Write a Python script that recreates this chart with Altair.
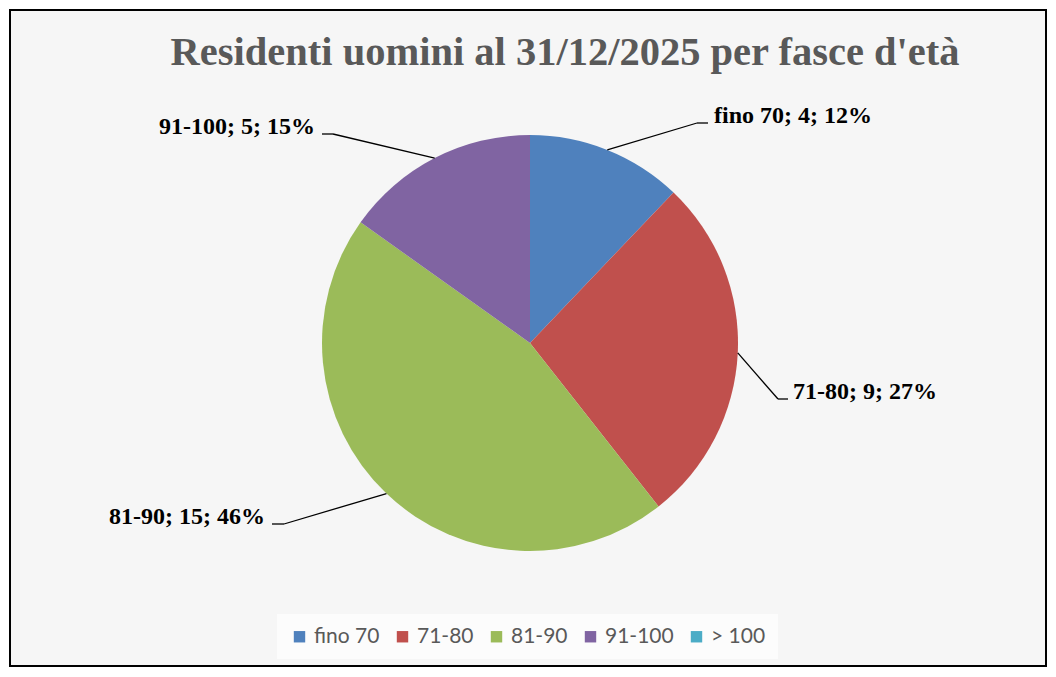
import altair as alt
import pandas as pd

# ---- data ----
categories = ["fino 70", "71-80", "81-90", "91-100", "> 100"]
values = [4, 9, 15, 5, 0]
percents = [12, 27, 46, 15, 0]
colors = ["#4F81BD", "#C0504D", "#9BBB59", "#8064A2", "#4BACC6"]

# ---- layout (page pixel coordinates of label annotations) ----
OFF = 10  # page offset of the plot area (8px body margin + 2px padding)
label_x_page = [714, 793, 265, 315, None]
line_y_page = [123, 399, 524, 134, None]
elbow_x_page = [697, 778, 284, 333, None]
end_x_page = [708, 788, 272, 322, None]
label_align = ["left", "left", "right", "right", "left"]

CX, CY, R = 530 - OFF, 343 - OFF, 208
W, H = 1036, 656


def sub(v):
    return None if v is None else v - OFF


df = pd.DataFrame({
    "category": categories,
    "value": values,
    "pct": percents,
    "order": list(range(len(categories))),
    "label_x": [sub(v) for v in label_x_page],
    "line_y": [sub(v) for v in line_y_page],
    "elbow_x": [sub(v) for v in elbow_x_page],
    "end_x": [sub(v) for v in end_x_page],
    "side": label_align,
})

base = alt.Chart(df)

pie = base.mark_arc(outerRadius=R, stroke=None).encode(
    x=alt.value(CX),
    y=alt.value(CY),
    theta=alt.Theta("value:Q", stack=True),
    order=alt.Order("order:Q"),
    color=alt.Color(
        "category:N",
        scale=alt.Scale(domain=categories, range=colors),
        sort=categories,
        legend=alt.Legend(
            orient="none",
            legendX=277 - OFF,
            legendY=614 - OFF,
            direction="horizontal",
            columns=5,
            title=None,
            symbolType="square",
            symbolSize=130,
            symbolStrokeWidth=0,
            labelFont="Lato",
            labelFontSize=21,
            labelColor="#595959",
            labelOffset=4,
            columnPadding=12,
            padding=12,
            fillColor="#fcfcfc",
        ),
    ),
)

lead = base.transform_joinaggregate(
    total="sum(value)"
).transform_window(
    cum="sum(value)", sort=[alt.SortField("order")], frame=[None, 0]
).transform_calculate(
    mid="2*PI*(datum.cum - datum.value/2)/datum.total",
    ax=f"{CX} + {R}*sin(datum.mid)",
    ay=f"{CY} - {R}*cos(datum.mid)",
    label="datum.category + '; ' + datum.value + '; ' + datum.pct + '%'",
).transform_filter("datum.value > 0")

leader1 = lead.mark_rule(color="black", strokeWidth=1.3).encode(
    x=alt.X("ax:Q", scale=None),
    y=alt.Y("ay:Q", scale=None),
    x2=alt.X2("elbow_x:Q"),
    y2=alt.Y2("line_y:Q"),
)
leader2 = lead.mark_rule(color="black", strokeWidth=1.3).encode(
    x=alt.X("elbow_x:Q", scale=None),
    y=alt.Y("line_y:Q", scale=None),
    x2=alt.X2("end_x:Q"),
    y2=alt.Y2("line_y:Q"),
)

text_kw = dict(baseline="alphabetic", font="Liberation Serif", fontWeight="bold",
               fontSize=24, color="black")
labels_left = lead.transform_filter("datum.side == 'left'").mark_text(
    align="left", **text_kw
).encode(
    x=alt.X("label_x:Q", scale=None),
    y=alt.Y("line_y:Q", scale=None),
    text="label:N",
)
labels_right = lead.transform_filter("datum.side == 'right'").mark_text(
    align="right", **text_kw
).encode(
    x=alt.X("label_x:Q", scale=None),
    y=alt.Y("line_y:Q", scale=None),
    text="label:N",
)

title_text = ["Residenti uomini al 31/12/2025 per fasce d'età"]
title = alt.Chart(pd.DataFrame({"t": title_text})).mark_text(
    align="center", baseline="alphabetic", font="Liberation Serif",
    fontWeight="bold", fontSize=40.5, color="#595959",
).encode(
    x=alt.value(565 - OFF),
    y=alt.value(65 - OFF),
    text="t:N",
)

chart = alt.layer(pie, leader1, leader2, labels_left, labels_right, title).properties(
    width=W,
    height=H,
    padding=2,
    autosize=alt.AutoSizeParams(type="none"),
    background="white",
).configure_view(
    fill="#f6f6f6", stroke="black", strokeWidth=2
)

chart.save("out.html", embed_options={"renderer": "svg", "actions": False})
